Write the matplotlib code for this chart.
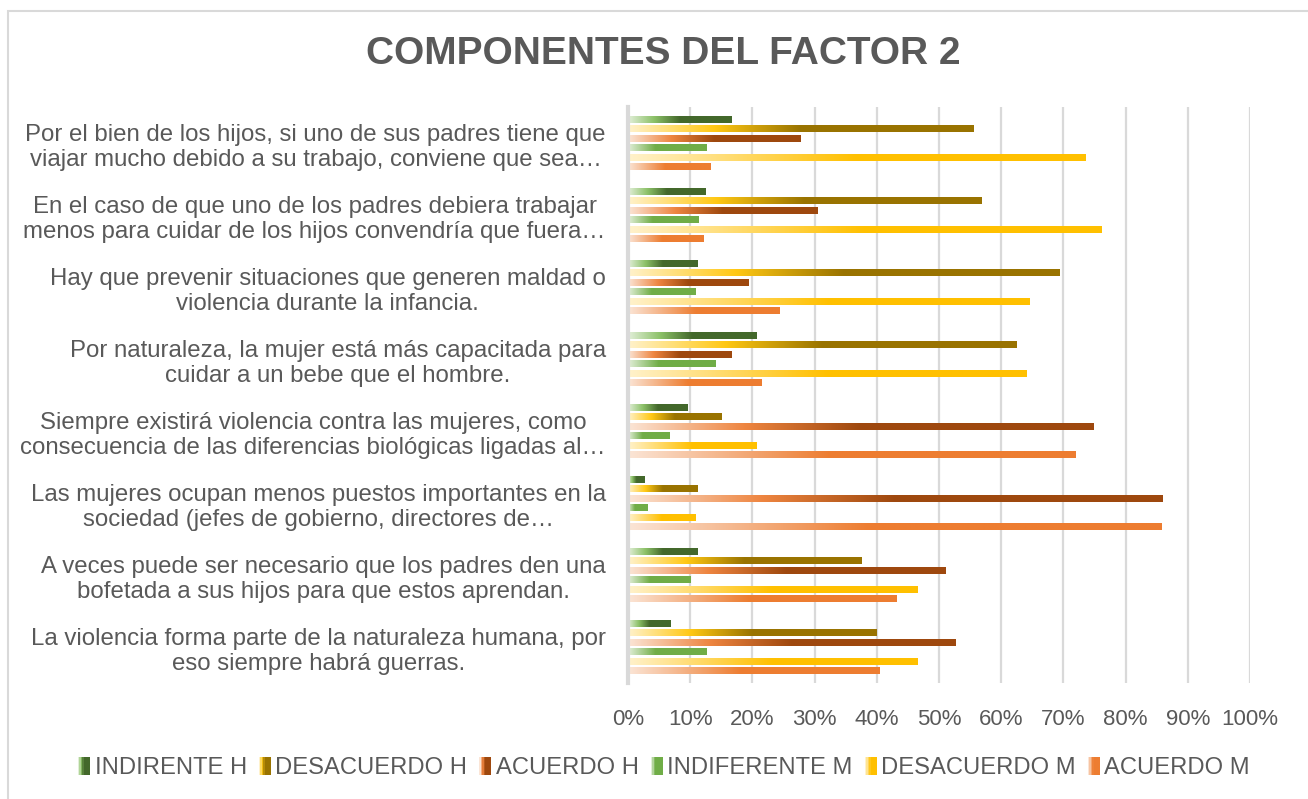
import numpy as np
import matplotlib
matplotlib.use("Agg")
import matplotlib.pyplot as plt
from matplotlib.patches import Rectangle
from matplotlib.legend_handler import HandlerBase
from matplotlib.colors import to_rgb

plt.rcParams['font.family'] = ['Liberation Sans', 'DejaVu Sans']

# ---------------- data ----------------
categories = [
    "Por el bien de los hijos, si uno de sus padres tiene que\nviajar mucho debido a su trabajo, conviene que sea…",
    "En el caso de que uno de los padres debiera trabajar\nmenos para cuidar de los hijos convendría que fuera…",
    "Hay que prevenir situaciones que generen maldad o\nviolencia durante la infancia.",
    "Por naturaleza, la mujer está más capacitada para\ncuidar a un bebe que el hombre.",
    "Siempre existirá violencia contra las mujeres, como\nconsecuencia de las diferencias biológicas ligadas al…",
    "Las mujeres ocupan menos puestos importantes en la\nsociedad (jefes de gobierno, directores de…",
    "A veces puede ser necesario que los padres den una\nbofetada a sus hijos para que estos aprendan.",
    "La violencia forma parte de la naturaleza humana, por\neso siempre habrá guerras.",
]
series_names = ["INDIRENTE H", "DESACUERDO H", "ACUERDO H",
                "INDIFERENTE M", "DESACUERDO M", "ACUERDO M"]

indirente_h    = [0.166, 0.124, 0.111, 0.207, 0.096, 0.026, 0.111, 0.068]
desacuerdo_h   = [0.555, 0.568, 0.693, 0.624, 0.151, 0.111, 0.375, 0.400]
acuerdo_h      = [0.277, 0.304, 0.193, 0.166, 0.749, 0.860, 0.511, 0.526]
indiferente_m  = [0.127, 0.113, 0.108, 0.140, 0.066, 0.032, 0.100, 0.127]
desacuerdo_m   = [0.735, 0.762, 0.646, 0.640, 0.207, 0.108, 0.465, 0.465]
acuerdo_m      = [0.133, 0.121, 0.243, 0.215, 0.720, 0.857, 0.431, 0.404]

series_values = [indirente_h, desacuerdo_h, acuerdo_h,
                 indiferente_m, desacuerdo_m, acuerdo_m]

x_ticks = [0.0, 0.1, 0.2, 0.3, 0.4, 0.5, 0.6, 0.7, 0.8, 0.9, 1.0]
x_tick_labels = ["0%", "10%", "20%", "30%", "40%", "50%", "60%", "70%", "80%", "90%", "100%"]

# ---------------- styles ----------------
gradients = [
    [(0.0, "#E2EFD9"), (0.25, "#8CC168"), (0.5, "#43682B"), (1.0, "#43682B")],
    [(0.0, "#FFF2CC"), (0.25, "#FFC814"), (0.5, "#997300"), (1.0, "#997300")],
    [(0.0, "#FBE5D6"), (0.25, "#EE8540"), (0.5, "#9E480E"), (1.0, "#9E480E")],
    [(0.0, "#E2EFD9"), (0.35, "#70AD47"), (1.0, "#70AD47")],
    [(0.0, "#FFF2CC"), (0.5, "#FFC000"), (1.0, "#FFC000")],
    [(0.0, "#FBE5D6"), (0.45, "#ED7D31"), (1.0, "#ED7D31")],
]
TEXT = "#595959"
GRID = "#D9D9D9"


def grad_array(stops, n=256):
    xs = np.linspace(0, 1, n)
    pos = [p for p, _ in stops]
    cols = np.array([to_rgb(c) for _, c in stops])
    arr = np.stack([np.interp(xs, pos, cols[:, k]) for k in range(3)], axis=-1)
    return arr[np.newaxis, :, :]


W, H = 1308, 799
fig = plt.figure(figsize=(W / 100, H / 100), dpi=100)
fig.patch.set_facecolor("white")

ax = fig.add_axes([628 / W, 1 - 683 / H, 622 / W, 576 / H])

n_cat = len(categories)
n_ser = len(series_values)
slot = 0.13
bar_h = 0.097
y_centers = np.arange(n_cat)

for j, (vals, stops) in enumerate(zip(series_values, gradients)):
    ys = y_centers + (j - (n_ser - 1) / 2) * slot
    bars = ax.barh(ys, vals, height=bar_h, color="none", edgecolor="none", zorder=3)
    g = grad_array(stops)
    for p in bars.patches:
        x0, w = p.get_x(), p.get_width()
        y0, hh = p.get_y(), p.get_height()
        ax.imshow(g, extent=(x0, x0 + w, y0 + hh, y0), aspect="auto",
                  interpolation="bilinear", zorder=3)

ax.set_xlim(0, 1.0)
ax.set_ylim(n_cat - 0.5, -0.5)
ax.set_aspect("auto")

ax.set_xticks(x_ticks)
ax.set_xticklabels(x_tick_labels)
ax.set_yticks(y_centers)
ax.set_yticklabels(categories, multialignment="center", linespacing=1.2)

ax.tick_params(axis="x", length=0, pad=19, labelsize=16, labelcolor=TEXT)
ax.tick_params(axis="y", length=0, pad=16, labelsize=17.3, labelcolor=TEXT)

for s in ["top", "right", "bottom"]:
    ax.spines[s].set_visible(False)
ax.spines["left"].set_color(GRID)
ax.spines["left"].set_linewidth(3)
ax.spines["left"].set_zorder(4)

ax.xaxis.grid(True, color=GRID, linewidth=1.6, zorder=0)
ax.set_axisbelow(True)

fig.text(0.5070, 1 - 54 / H, "COMPONENTES DEL FACTOR 2", ha="center", va="center",
         fontsize=28, fontweight="bold", color=TEXT)


class GradHandler(HandlerBase):
    def __init__(self, stops):
        super().__init__()
        self.stops = stops

    def create_artists(self, legend, orig_handle, xdescent, ydescent, width,
                       height, fontsize, trans):
        g = grad_array(self.stops, n=8)[0]
        n = len(g)
        arts = []
        hh = height * 1.0
        for k in range(n):
            r = Rectangle((-xdescent + k * width / n, -ydescent + (height - hh) / 2),
                          width / n + 0.05, hh, facecolor=g[k], edgecolor="none",
                          transform=trans)
            arts.append(r)
        return arts


handles = [Rectangle((0, 0), 1, 1) for _ in series_names]
handler_map = {h: GradHandler(s) for h, s in zip(handles, gradients)}
fig.legend(handles, series_names, handler_map=handler_map, loc="center",
           bbox_to_anchor=(664 / W, 1 - 768 / H), ncol=6, frameon=False,
           fontsize=17.1, labelcolor=TEXT, handlelength=0.5, handleheight=0.8,
           handletextpad=0.2, columnspacing=0.5, borderaxespad=0)

fig.patches.append(Rectangle((8 / W, -0.1), 1.2, 1 - 11 / H + 0.1,
                             transform=fig.transFigure, fill=False,
                             edgecolor=GRID, linewidth=1.5))

fig.savefig("out.png", dpi=100, facecolor="white")
